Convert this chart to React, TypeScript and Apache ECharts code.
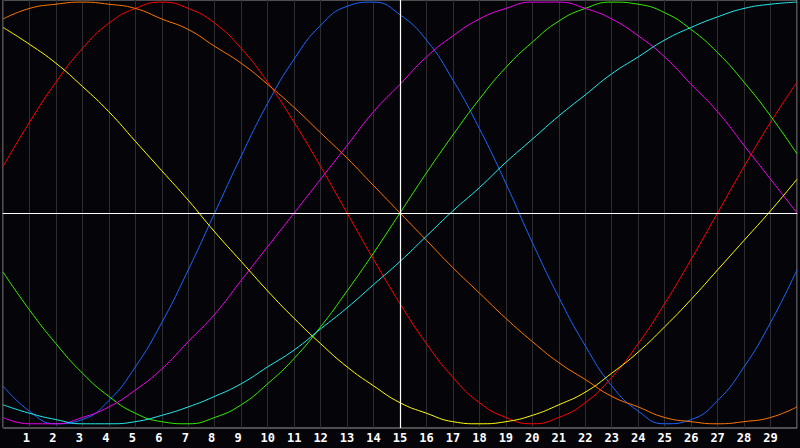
import * as echarts from "echarts";
import { useEffect, useRef } from "react";

// days shown along the bottom (0 and 30 are the plot edges)
const days = Array.from({ length: 31 }, (_, i) => i);
const dayLabels = ["1", "2", "3", "4", "5", "6", "7", "8", "9", "10", "11", "12", "13", "14", "15",
  "16", "17", "18", "19", "20", "21", "22", "23", "24", "25", "26", "27", "28", "29"];

// cycle values in percent for day 0..30
const blue23 = [-82, -94, -100, -98, -89, -73, -52, -27, 0, 27, 52, 73, 89, 98, 100, 94,
  82, 63, 40, 14, -14, -40, -63, -82, -94, -100, -98, -89, -73, -52, -27];
const red28 = [22, 43, 62, 78, 90, 97, 100, 97, 90, 78, 62, 43, 22, 0, -22, -43,
  -62, -78, -90, -97, -100, -97, -90, -78, -62, -43, -22, 0, 22, 43, 62];
const green33 = [-28, -46, -62, -76, -87, -95, -99, -100, -97, -91, -81, -69, -54, -37, -19, 0,
  19, 37, 54, 69, 81, 91, 97, 100, 99, 95, 87, 76, 62, 46, 28];
const magenta38 = [-97, -100, -100, -97, -92, -84, -74, -61, -48, -32, -16, 0, 16, 32, 48, 61,
  74, 84, 92, 97, 100, 100, 97, 92, 84, 74, 61, 48, 32, 16, 0];
const yellow43 = [88, 80, 71, 60, 48, 34, 20, 6, -9, -23, -37, -50, -62, -73, -82, -90,
  -95, -99, -100, -99, -96, -91, -85, -76, -66, -54, -41, -27, -13, 1, 16];
const orange48 = [92, 97, 99, 100, 99, 97, 92, 87, 79, 71, 61, 50, 38, 26, 13, 0,
  -13, -26, -38, -50, -61, -71, -79, -87, -92, -97, -99, -100, -99, -97, -92];
const cyan53 = [-91, -95, -98, -100, -100, -99, -96, -92, -87, -81, -73, -65, -55, -45, -34, -23,
  -11, 1, 12, 24, 35, 46, 56, 66, 74, 82, 88, 93, 97, 99, 100];

const curves = [
  { name: "23", color: "#1a66ff", values: blue23 },
  { name: "28", color: "#ff0000", values: red28 },
  { name: "33", color: "#33ee00", values: green33 },
  { name: "38", color: "#ee00ee", values: magenta38 },
  { name: "43", color: "#ffff00", values: yellow43 },
  { name: "48", color: "#ff7700", values: orange48 },
  { name: "53", color: "#22eeee", values: cyan53 },
];

const labelFont = {
  color: "#ffffff",
  fontFamily: "DejaVu Sans Mono",
  fontWeight: "bold",
  fontSize: 12,
};

const App = () => {
  const chartRef = useRef<HTMLDivElement | null>(null);

  useEffect(() => {
    const chart = echarts.init(chartRef.current!, null, { renderer: "svg" });

    const option = {
      animation: false,
      backgroundColor: "#050409",
      grid: {
        left: 0,
        right: -2,
        top: 0,
        bottom: 20,
        show: true,
        borderColor: "#999999",
        borderWidth: 1,
      },
      xAxis: {
        type: "value",
        min: 0,
        max: 30,
        interval: 1,
        axisLine: { show: true, lineStyle: { color: "#b0b0b0", width: 1 } },
        axisTick: { show: false },
        splitLine: { show: true, lineStyle: { color: "#2e2e32", width: 1 } },
        axisLabel: {
          margin: 4,
          ...labelFont,
          formatter: (v: number) => {
            const label = dayLabels[v - 1];
            if (!label) return "";
            // single digits sit a little left of their grid line
            return label.length === 1 ? `{s|${label}}` : `{d|${label}}`;
          },
          rich: {
            s: { ...labelFont, padding: [0, 6, 0, 0] },
            d: { ...labelFont },
          },
        },
      },
      yAxis: {
        type: "value",
        min: -102,
        max: 101,
        axisLine: { show: false },
        axisTick: { show: false },
        axisLabel: { show: false },
        splitLine: { show: false },
      },
      series: curves.map((c, i) => ({
        name: c.name,
        type: "line",
        data: days.map((d) => [d, c.values[d]]),
        smooth: true,
        showSymbol: false,
        silent: true,
        lineStyle: { color: c.color, width: 1 },
        itemStyle: { color: c.color },
        markLine:
          i === 0
            ? {
                silent: true,
                symbol: "none",
                label: { show: false },
                lineStyle: { color: "#ffffff", type: "solid", width: 1.2 },
                data: [{ yAxis: 0 }, { xAxis: 15 }],
              }
            : undefined,
      })),
    };

    chart.setOption(option);

    return () => {
      chart.dispose();
    };
  }, []);

  return (
    <div
      ref={chartRef}
      style={{ position: "absolute", left: 0, top: 0, width: "800px", height: "448px" }}
    />
  );
};

export default App;
